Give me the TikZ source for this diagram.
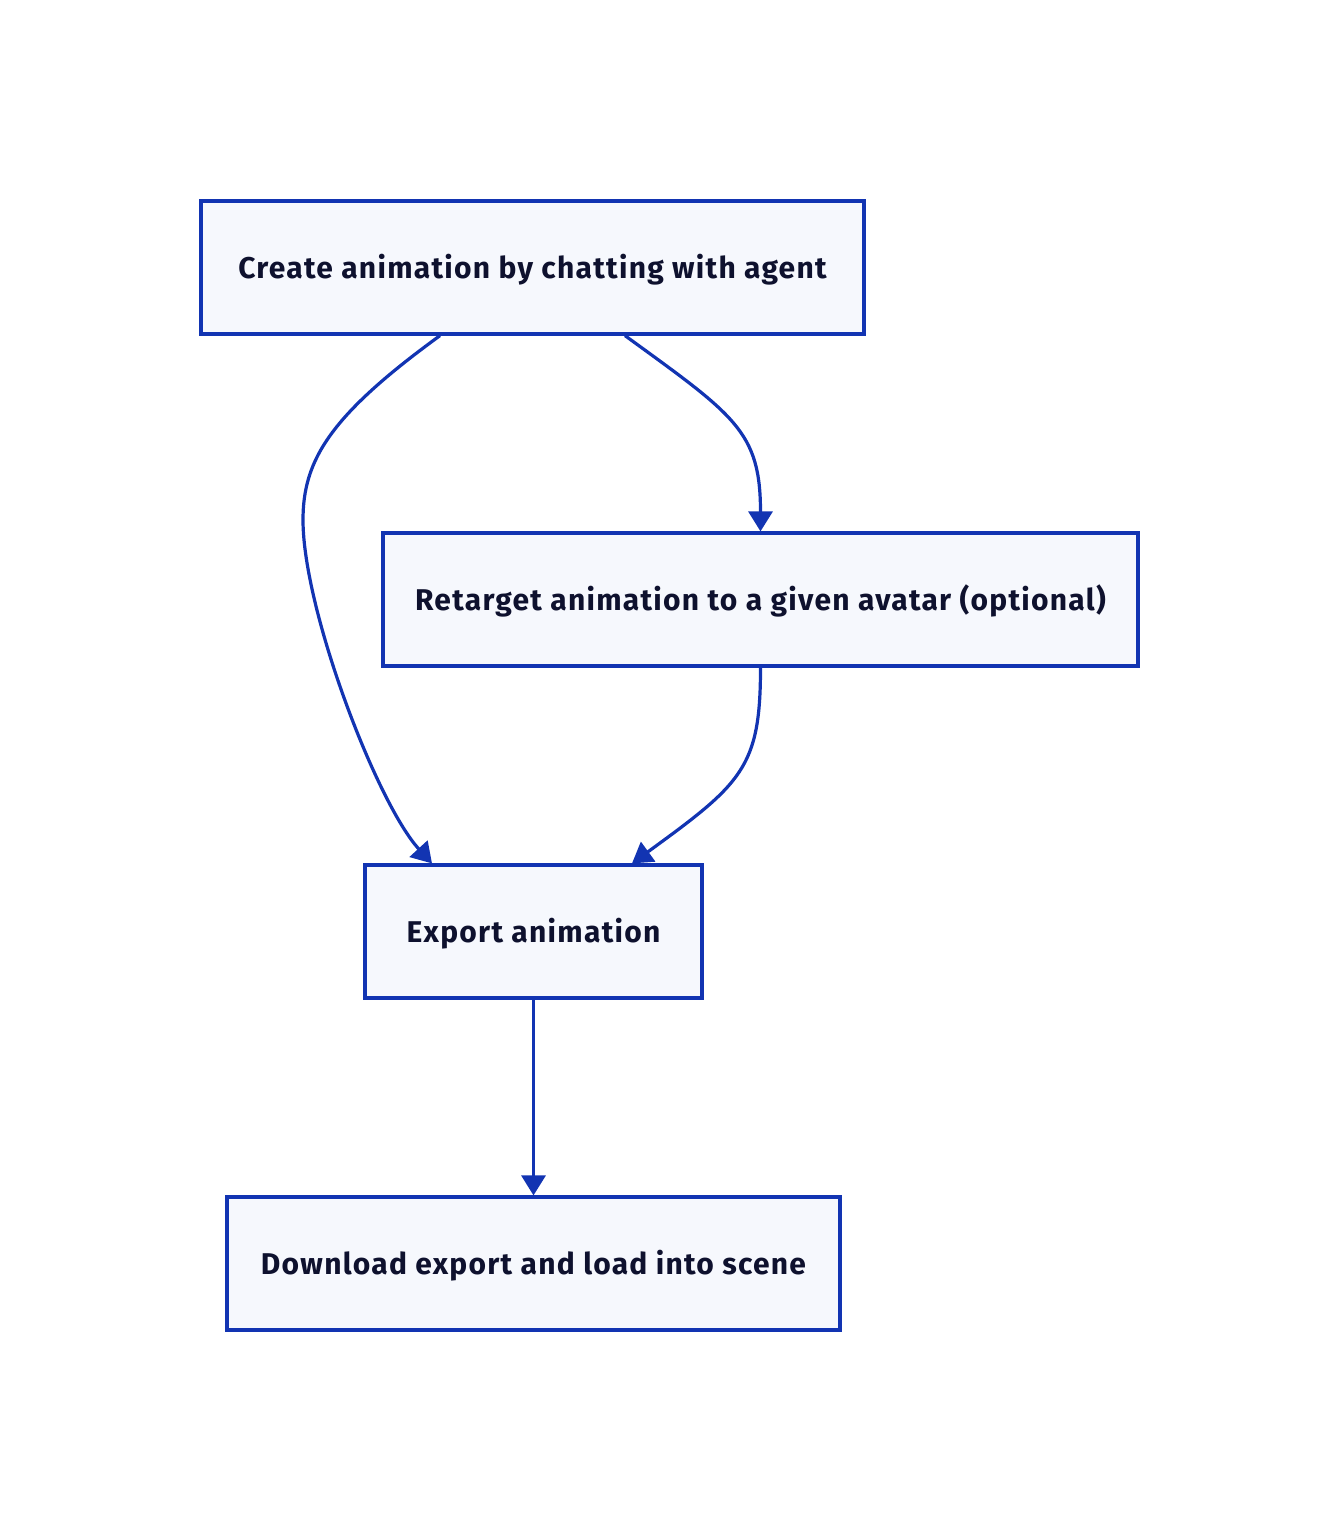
\documentclass[tikz,border=0pt]{standalone}
\usepackage{fontspec}
\setmainfont{Fira Sans}[LetterSpace=4.2]
\usetikzlibrary{arrows.meta,calc}
\definecolor{flowblue}{RGB}{18,52,178}
\definecolor{flowfill}{RGB}{246,248,253}
\definecolor{flowtext}{RGB}{14,17,46}
\tikzset{
  stepbox/.style={draw=flowblue,fill=flowfill,line width=1.6pt,minimum height=66.5pt,
    text=flowtext,font=\fontsize{15}{18}\selectfont\bfseries,inner sep=0pt,
    text height=14pt,text depth=3.5pt},
  flow/.style={draw=flowblue,line width=1.6pt,-{Triangle[length=10pt,width=12pt]}}
}
\begin{document}
\begin{tikzpicture}[x=0.5pt,y=-0.5pt]
      \useasboundingbox (0,0) rectangle (1340,1532);
      \node[stepbox,minimum width=331.5pt] (create) at (532.5,267.5) {Create animation by chatting with agent};
      \node[stepbox,minimum width=377.5pt] (retarget) at (760.5,599.5) {Retarget animation to a given avatar (optional)};
      \node[stepbox,minimum width=168.5pt] (export) at (533.5,931.5) {Export animation};
      \node[stepbox,minimum width=306.5pt] (download) at (533.5,1263.5) {Download export and load into scene};
      \draw[flow] ($(create.south)+(-92.5,0)$) .. controls +(-110,80) and +(0,-60) .. (303,520)
        .. controls +(0,90) and +(-55,-60) .. ($(export.north)+(-101.5,0)$);
      \draw[flow] ($(create.south)+(92.5,0)$) .. controls +(110,80) and +(0,-100) .. (retarget.north);
      \draw[flow] (retarget.south) .. controls +(0,100) and +(110,-80) .. ($(export.north)+(98.5,0)$);
      \draw[flow] (export) -- (download);
    \end{tikzpicture}
\end{document}
